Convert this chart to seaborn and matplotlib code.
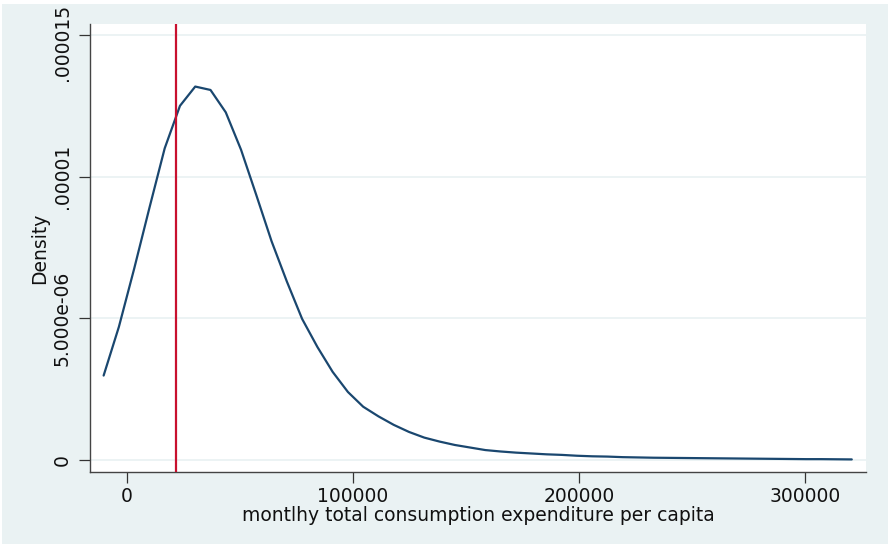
import matplotlib
matplotlib.use("Agg")
import matplotlib.pyplot as plt
import matplotlib.transforms as mtransforms
import seaborn as sns
import pandas as pd
from matplotlib.patches import Rectangle

# Data
expenditure = [-10200, -3450, 3300, 10050, 16800, 23550, 30300, 37050, 43800, 50550,
               57300, 64050, 70800, 77550, 84300, 91050, 97800, 104550, 111300, 118050,
               124800, 131550, 138300, 145050, 151800, 158550, 165300, 172050, 178800, 185550,
               192300, 199050, 205800, 212550, 219300, 226050, 232800, 239550, 246300, 253050,
               259800, 266550, 273300, 280050, 286800, 293550, 300300, 307050, 313800, 320550]
density_e6 = [2.98, 4.70, 6.75, 8.90, 11.00, 12.50, 13.18, 13.06, 12.27, 10.95,
              9.35, 7.72, 6.30, 4.98, 3.99, 3.11, 2.40, 1.88, 1.54, 1.24,
              0.99, 0.79, 0.65, 0.53, 0.44, 0.35, 0.30, 0.26, 0.23, 0.20,
              0.18, 0.15, 0.13, 0.12, 0.10, 0.09, 0.08, 0.075, 0.07, 0.065,
              0.06, 0.055, 0.05, 0.045, 0.04, 0.035, 0.03, 0.03, 0.025, 0.02]
poverty_line = [22000]
x_ticks = [0, 100000, 200000, 300000]
x_tick_labels = ["0", "100000", "200000", "300000"]
y_ticks = [0, 5e-6, 1e-5, 1.5e-5]
y_tick_labels = ["0", "5.000e-06", ".00001", ".000015"]

df = pd.DataFrame({"x": expenditure, "d": [v * 1e-6 for v in density_e6]})

sns.set_theme(style="white")
plt.rcParams["font.family"] = ["DejaVu Sans"]

bg = "#EAF2F3"
txt = "#111111"
fs = 13.5
fig = plt.figure(figsize=(8.88, 5.44), dpi=100, facecolor="white")
fig.patches.append(Rectangle((2 / 888, 0), 1, 1 - 4 / 544, transform=fig.transFigure,
                             facecolor=bg, edgecolor="none", zorder=-10))
ax = fig.add_axes([90 / 888, 1 - 472 / 544, 776 / 888, 448 / 544])
ax.set_facecolor("white")

for yt in y_ticks:
    ax.axhline(yt, color=bg, lw=1.3, zorder=0)

sns.lineplot(data=df, x="x", y="d", ax=ax, color="#1A476F", lw=1.6, zorder=3)
for pl in poverty_line:
    ax.axvline(pl, color="#C8102E", lw=1.6, zorder=4)

ax.set_xlim(-16224, 326840)
ax.set_ylim(-0.0424e-5, 1.5388e-5)
ax.set_xticks(x_ticks)
ax.set_xticklabels(x_tick_labels, fontsize=fs, color=txt)
ax.set_yticks(y_ticks)
ylabels = ax.set_yticklabels(y_tick_labels, fontsize=fs, color=txt, rotation=90, va="center")
ax.tick_params(axis="both", which="both", direction="out", length=8, width=0.9,
               color="#333333", left=True, bottom=True)
ax.tick_params(axis="x", pad=3)
ax.tick_params(axis="y", pad=5)

# keep the top tick label inside the figure
shift = mtransforms.ScaledTranslation(0, -7 / 100, fig.dpi_scale_trans)
ylabels[-1].set_transform(ylabels[-1].get_transform() + shift)

ax.set_xlabel("montlhy total consumption expenditure per capita", fontsize=fs,
              color=txt, labelpad=0)
ax.set_ylabel("Density", fontsize=fs, color=txt, labelpad=3)

for side in ["top", "right"]:
    ax.spines[side].set_visible(False)
for side in ["left", "bottom"]:
    ax.spines[side].set_color("#444444")
    ax.spines[side].set_linewidth(1.0)

fig.savefig("out.png", dpi=100, facecolor="white")
